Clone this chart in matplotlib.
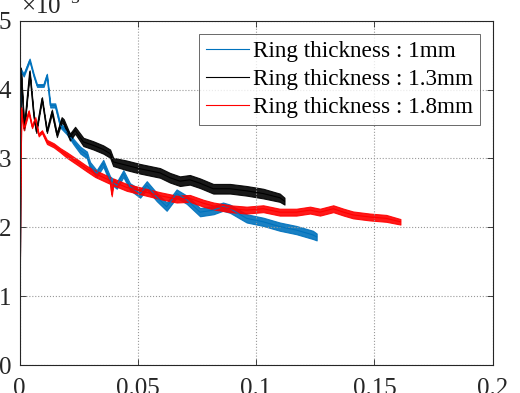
import numpy as np
import matplotlib
matplotlib.use('Agg')
import matplotlib.pyplot as plt

plt.rcParams['font.family'] = ['Liberation Serif', 'DejaVu Serif']
plt.rcParams['mathtext.fontset'] = 'custom'
plt.rcParams['mathtext.rm'] = 'Liberation Serif'

# values (y in units of 1e-3)
x_1mm = [0, 0.0003, 0.0006, 0.0018, 0.0043, 0.006, 0.0074, 0.0102, 0.0116, 0.013,
         0.0151, 0.0172, 0.020, 0.0229, 0.0257, 0.0285, 0.0298, 0.0326, 0.0354, 0.0383,
         0.0411, 0.0439, 0.0467, 0.051, 0.0538, 0.058, 0.0622, 0.0664, 0.0707, 0.0763,
         0.082, 0.086, 0.089, 0.096, 0.103, 0.110, 0.117, 0.124, 0.1256]
y_1mm = [0, 2.5, 4.28, 4.21, 4.43, 4.21, 4.06, 4.06, 4.21, 3.77,
         3.77, 3.48, 3.39, 3.24, 3.12, 3.05, 2.9, 2.78, 2.93, 2.69,
         2.61, 2.78, 2.59, 2.49, 2.61, 2.44, 2.30, 2.49, 2.40, 2.22,
         2.25, 2.3, 2.27, 2.13, 2.08, 2.01, 1.96, 1.89, 1.86]
s_1mm = [0, 0, 0.02, 0.02, 0.02, 0.02, 0.02, 0.02, 0.02, 0.03,
         0.03, 0.03, 0.04, 0.04, 0.05, 0.05, 0.05, 0.05, 0.05, 0.05,
         0.05, 0.05, 0.05, 0.06, 0.06, 0.06, 0.06, 0.06, 0.06, 0.06,
         0.06, 0.06, 0.06, 0.06, 0.06, 0.06, 0.06, 0.06, 0.05]

x_13mm = [0, 0.0003, 0.0006, 0.002, 0.0043, 0.006, 0.0071, 0.0095, 0.0116, 0.0137,
          0.0158, 0.0178, 0.0187, 0.0213, 0.0235, 0.027, 0.0312, 0.0354, 0.0383, 0.0396,
          0.0453, 0.051, 0.0552, 0.0594, 0.0636, 0.0678, 0.072, 0.0763, 0.0819, 0.089,
          0.096, 0.103, 0.110, 0.112]
y_13mm = [0, 2.4, 4.3, 3.43, 4.26, 3.63, 3.39, 3.87, 3.39, 3.68,
          3.34, 3.56, 3.53, 3.31, 3.41, 3.24, 3.19, 3.13, 3.07, 2.95,
          2.9, 2.85, 2.82, 2.79, 2.72, 2.67, 2.69, 2.64, 2.56, 2.56,
          2.53, 2.49, 2.43, 2.38]
s_13mm = [0, 0, 0.02, 0.02, 0.02, 0.02, 0.02, 0.02, 0.02, 0.03,
          0.03, 0.04, 0.04, 0.05, 0.05, 0.06, 0.06, 0.06, 0.06, 0.06,
          0.07, 0.07, 0.07, 0.07, 0.07, 0.07, 0.07, 0.07, 0.07, 0.07,
          0.07, 0.07, 0.06, 0.05]

x_18mm = [0, 0.0003, 0.0008, 0.0018, 0.0039, 0.0053, 0.0067, 0.0081, 0.0095, 0.0116,
          0.0145, 0.0172, 0.020, 0.0243, 0.0285, 0.032, 0.0383, 0.0390, 0.0396, 0.0453,
          0.0523, 0.0594, 0.0664, 0.072, 0.0777, 0.082, 0.089, 0.096, 0.103, 0.110,
          0.117, 0.1228, 0.127, 0.1326, 0.137, 0.141, 0.148, 0.155, 0.161]
y_18mm = [0, 2.4, 3.73, 3.43, 3.68, 3.46, 3.58, 3.34, 3.39, 3.24,
          3.19, 3.12, 3.05, 2.95, 2.85, 2.78, 2.68, 2.47, 2.66, 2.58,
          2.52, 2.46, 2.41, 2.42, 2.35, 2.31, 2.27, 2.25, 2.27, 2.22,
          2.22, 2.25, 2.22, 2.27, 2.22, 2.18, 2.15, 2.13, 2.08]
s_18mm = [0, 0, 0.02, 0.02, 0.02, 0.02, 0.02, 0.02, 0.02, 0.03,
          0.03, 0.03, 0.04, 0.04, 0.04, 0.05, 0.05, 0.02, 0.05, 0.05,
          0.05, 0.05, 0.05, 0.05, 0.05, 0.05, 0.05, 0.05, 0.05, 0.05,
          0.05, 0.05, 0.05, 0.05, 0.05, 0.05, 0.05, 0.05, 0.04]

labels = ['Ring thickness : 1mm', 'Ring thickness : 1.3mm', 'Ring thickness : 1.8mm']
colors = ['#0072BD', 'black', '#FF0000']

fig = plt.figure(figsize=(5.2, 3.93), dpi=100)
ax = fig.add_axes([0.0375, 0.0712, 0.91, 0.876])

series = [(x_1mm, y_1mm, s_1mm), (x_13mm, y_13mm, s_13mm), (x_18mm, y_18mm, s_18mm)]
for (x, y, s), c, lab in zip(series, colors, labels):
    x = np.array(x)
    y = np.array(y)
    s = np.array(s)
    ax.fill_between(x, y - s, y + s, color=c, lw=0.8, alpha=0.9, joinstyle='round')
    ax.plot(x, y, color=c, lw=0.8, label=lab)

ax.set_xlim(0, 0.2)
ax.set_ylim(0, 5)
ax.set_xticks([0, 0.05, 0.1, 0.15, 0.2])
ax.set_xticklabels(['0', '0.05', '0.1', '0.15', '0.2'])
ax.set_yticks([0, 1, 2, 3, 4, 5])
ax.grid(True, linestyle=':', color='#999999', lw=0.8)
ax.tick_params(direction='in', top=True, right=True, labelsize=18, colors='#262626',
               length=4, width=0.6)
ax.tick_params(axis='x', pad=9)
ax.tick_params(axis='y', pad=6)
for sp in ax.spines.values():
    sp.set_color('#262626')
    sp.set_linewidth(0.8)

ax.text(0.003, 1.005, r'$\times10^{-3}$', transform=ax.transAxes, fontsize=18,
        va='bottom', ha='left', color='#262626')

leg = ax.legend(loc='upper right', fontsize=16.7, frameon=True, fancybox=False,
                edgecolor='#262626', borderaxespad=0.55, handlelength=1.85,
                handletextpad=0.17, labelspacing=0.3, borderpad=0.3)
leg.get_frame().set_linewidth(0.6)
for line in leg.get_lines():
    line.set_linewidth(0.8)

fig.savefig('out.png', dpi=100)
